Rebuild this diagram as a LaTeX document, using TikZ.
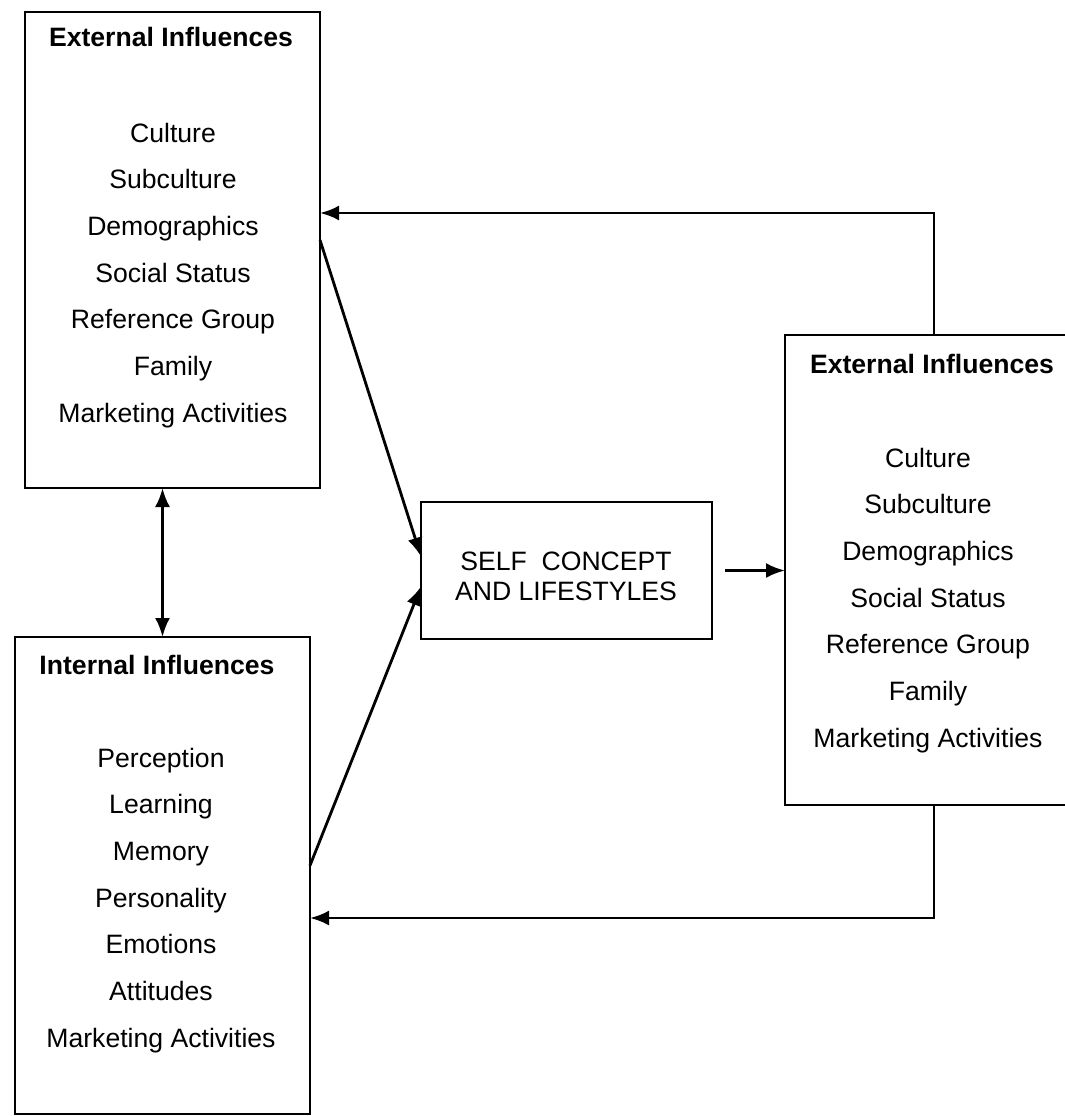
\documentclass[tikz,border=0pt]{standalone}
\usepackage{fontspec}
\setmainfont{Liberation Sans}
\usetikzlibrary{arrows.meta}
\begin{document}
\begin{tikzpicture}[x=1pt,y=-1pt,
  box/.style={draw, line width=2.6pt, inner sep=0pt, outer sep=0pt},
  title/.style={font=\fontsize{26.6}{30}\selectfont\bfseries, anchor=base, inner sep=0pt},
  item/.style={font=\fontsize{26.6}{30}\selectfont, anchor=base, inner sep=0pt},
  tip/.tip={Latex[length=19pt,width=15pt]},
  link/.style={line width=2.8pt, -tip},
  link2/.style={line width=2.8pt, tip-tip}]
  \clip (0,0) rectangle (1065,1116);
  \fill[white] (0,0) rectangle (1065,1116);

  % the four boxes
  \node[box, minimum width=295pt, minimum height=476pt] (ext1) at (172.5,250) {};
  \node[box, minimum width=295pt, minimum height=477pt] (int) at (162.5,875.5) {};
  \node[box, minimum width=291pt, minimum height=137pt] (self) at (566.5,570.5) {};
  \node[box, minimum width=298pt, minimum height=470pt] (ext2) at (934,570) {};

  % external influences, left
  \node[title] (ext1t) at (171,47) {External Influences};
  \foreach \t [count=\i] in {Culture, Subculture, Demographics, Social Status,
      Reference Group, Family, Marketing Activities}
    \node[item] (ext1i\i) at (173,{142+46.7*(\i-1)}) {\t};

  % internal influences
  \node[title] (intt) at (157,674) {Internal Influences};
  \foreach \t [count=\i] in {Perception, Learning, Memory, Personality,
      Emotions, Attitudes, Marketing Activities}
    \node[item] (inti\i) at (161,{767+46.7*(\i-1)}) {\t};

  % external influences, right
  \node[title] (ext2t) at (932,373) {External Influences};
  \foreach \t [count=\i] in {Culture, Subculture, Demographics, Social Status,
      Reference Group, Family, Marketing Activities}
    \node[item] (ext2i\i) at (928,{467+46.7*(\i-1)}) {\t};

  % centre box
  \node[item] (selfa) at (566,570) {SELF\ \ CONCEPT};
  \node[item] (selfb) at (566,600) {AND LIFESTYLES};

  % connectors
  \draw[link] ([yshift=10pt]ext1.east) -- ([yshift=14pt]self.west);
  \draw[link] ([yshift=10pt]int.east) -- ([yshift=-16pt]self.west);
  \draw[link2] (int.north |- ext1.south) -- (int.north);
  \draw[link] ([xshift=13pt]self.east) -- (self.east -| ext2.west);
  \draw[link] (ext2.north) |- ([yshift=37pt]ext1.east);
  \draw[link] (ext2.south) |- ([yshift=-42.5pt]int.east);
\end{tikzpicture}
\end{document}
